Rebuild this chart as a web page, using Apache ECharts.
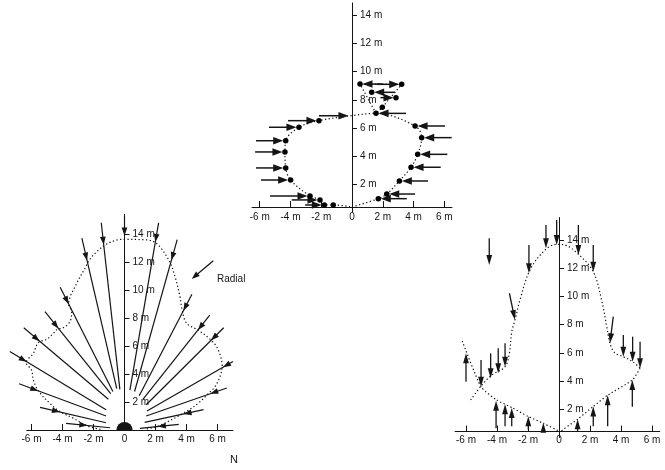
<!DOCTYPE html>
<html><head><meta charset="utf-8">
<script src="https://cdn.jsdelivr.net/npm/echarts@6/dist/echarts.min.js"></script>
<style>html,body{margin:0;padding:0;background:#fff}#c{width:665px;height:470px}</style>
</head><body><div id="c"></div>
<script>
// ---------- tick values ----------
const xTicks = [-6, -4, -2, 0, 2, 4, 6];
const yTicks = [2, 4, 6, 8, 10, 12, 14];

// ---------- Panel A (top) ----------
const aDots = [[-2.15,6.51],[-3.45,6.04],[-4.31,5.08],[-4.36,4.28],[-4.31,3.14],[-3.99,2.28],[-2.73,1.14],[-2.08,0.86],[-1.8,0.5],[-1.22,0.5],
  [0.52,9.12],[3.23,9.1],[1.28,8.53],[2.86,8.15],[1.97,7.46],[1.56,7.03],[4.1,6.13],[4.53,5.3],[4.27,4.11],[3.84,3.19],[3.08,2.21],[2.26,1.28],[1.71,0.95]];
const aArrows = [
  [-2.15,6.86,-0.07,6.86],[-4.16,6.51,-2.15,6.51],[-5.4,6.04,-3.45,6.04],[-6.24,5.08,-4.31,5.08],[-6.3,4.28,-4.36,4.28],
  [-6.24,3.14,-4.31,3.14],[-5.92,2.28,-3.99,2.28],[-5.33,1.14,-2.73,1.14],[-3.92,0.86,-2.08,0.86],[-3.05,0.5,-1.8,0.5],
  [2.0,9.12,0.52,9.12],[1.6,9.1,3.23,9.1],[2.8,8.53,1.28,8.53],[1.85,8.15,2.86,8.15],[3.51,7.03,1.56,7.03],
  [6.05,6.13,4.1,6.13],[6.48,5.3,4.53,5.3],[6.2,4.11,4.27,4.11],[5.77,3.19,3.84,3.19],[4.94,2.21,3.08,2.21],[4.1,1.28,2.26,1.28],[3.56,0.95,1.71,0.95]];
const aOutline = [[0,0.36],[1.71,0.95],[2.26,1.28],[3.08,2.21],[3.84,3.19],[4.27,4.11],[4.53,5.3],[4.1,6.13],[1.56,7.03],[-0.07,6.86],
  [-2.15,6.51],[-3.45,6.04],[-4.31,5.08],[-4.36,4.28],[-4.31,3.14],[-3.99,2.28],[-2.73,1.14],[-2.08,0.86],[-1.8,0.5],[-1.22,0.5],[0,0.36]];
const aTriangle = [[1.56,7.03],[0.52,9.12],[3.23,9.1],[1.97,7.46],[1.56,7.03]];

// ---------- Panel B (bottom left, radial) : [outerX,outerY, headX,headY, innerX,innerY] ----------
const bRadials = [
  [0,15.3,0,13.9,0,13.9],
  [-1.5,14.8,-1.2,13.25,-0.3,2.9],[-2.75,13.7,-2.27,12.14,-0.5,2.95],[-4.15,10.2,-3.6,9.0,-0.75,2.75],
  [-5.13,8.45,-4.33,7.2,-0.89,2.6],[-6.5,7.3,-5.56,6.24,-1.04,2.2],[-7.4,5.6,-6.35,4.8,-1.19,1.45],
  [-6.8,3.3,-5.56,2.8,-1.19,1.0],[-5.45,1.62,-4.16,1.31,-1.19,0.52],[-3.77,0.48,-2.4,0.29,-0.94,0.16],
  [2.2,14.8,1.9,13.45,0.35,2.85],[3.4,13.6,2.83,12.2,0.65,2.75],[4.35,9.7,3.72,8.57,0.95,2.45],
  [5.5,8.2,4.8,7.1,1.2,2.2],[6.4,7.3,5.65,6.35,1.4,1.8],[7.0,4.9,6.3,4.6,1.45,1.35],
  [6.6,3.0,5.5,2.7,1.4,1.0],[5.1,1.45,3.8,1.2,1.3,0.55],[3.5,0.4,2.15,0.27,1.0,0.12]];
const bLegendArrow = [[5.73,12.09,4.34,10.79]];
const bOutline = [[-1.55,0.05],[-2.4,0.29],[-3.3,0.84],[-4.16,1.31],[-4.81,1.9],[-5.56,2.8],[-5.88,3.57],[-6.0,4.29],[-6.35,4.8],
  [-5.88,5.48],[-5.56,6.24],[-5.02,6.48],[-4.59,6.9],[-4.33,7.2],[-3.95,7.3],[-3.52,7.74],[-3.41,8.45],[-3.6,9.0],
  [-3.08,10.48],[-2.55,11.55],[-2.27,12.14],[-1.79,12.74],[-1.2,13.25],[-0.5,13.57],[0.03,13.62],[1.0,13.6],[1.9,13.45],
  [2.83,12.2],[3.26,10.95],[3.58,9.52],[3.72,8.57],[4.01,7.62],[4.8,7.1],[5.65,6.35],[6.05,5.71],[6.3,4.6],[6.16,3.8],
  [5.84,3.1],[5.5,2.7],[4.74,1.9],[3.8,1.2],[2.15,0.27],[1.3,0.05]];
const bHub = [[0,0,0.52]];

// ---------- Panel C (bottom right) : [startX,startY, tipX,tipY] ----------
const cDown = [[-4.5,14.13,-4.5,12.23],[-1.94,13.65,-1.94,11.65],[-0.84,15.07,-0.84,13.42],[-0.15,15.43,-0.15,13.65],
  [1.25,15.07,1.25,12.94],[2.21,13.65,2.21,11.76],[-3.2,10.23,-2.84,8.33],[3.5,8.57,3.29,6.68],
  [-3.48,6.68,-3.48,5.02],[-3.92,6.33,-3.92,4.55],[-4.41,5.97,-4.41,4.2],[-5.03,5.5,-5.03,3.6],
  [4.15,7.27,4.15,5.73],[4.75,7.15,4.75,5.38],[5.23,6.79,5.23,4.91]];
const cUp = [[-6.0,3.96,-6.0,5.97],[-4.06,0.65,-4.06,2.6],[-3.48,0.8,-3.48,2.35],[-3.05,0.8,-3.05,2.1],[-1.98,0.55,-1.98,1.5],
  [-1.01,0.45,-1.01,1.05],[1.2,0.45,1.2,1.3],[2.21,0.8,2.21,2.2],[3.14,0.8,3.14,3.0],[4.73,2.18,4.73,4.08]];
const cBell = [[-5.7,2.66],[-4.99,3.7],[-4.34,4.43],[-3.48,5.02],[-3.2,6.0],[-3.05,7.5],[-2.84,8.33],[-2.52,9.75],[-1.87,11.88],
  [-0.9,13.3],[-0.15,13.7],[0.39,13.65],[1.25,13.0],[2.21,11.76],[2.75,9.75],[3.08,7.86],[3.29,6.68],[3.6,6.0],[4.15,5.73],[4.75,5.38],[5.23,4.91]];
const cRightLine = [[5.23,4.91],[4.73,4.08],[3.14,3.0],[2.21,2.2],[1.2,1.3],[0.06,0.41]];
const cLeftLine = [[-6.24,6.84],[-5.03,3.6],[-4.02,2.66],[-3.0,2.1],[-2.0,1.5],[-1.0,1.0],[0.0,0.45]];

// ---------- layout ----------
const INK = '#151515';
const FONT = 'Liberation Sans, Arial, Helvetica, sans-serif';
const L = {
  A: {zeroX:352, sx:15.38, xmin:-6.5, xmax:6.5, zeroY:212, sy:14.03, ymax:14.9, xOff:-5, lm:5},
  B: {zeroX:124.5, sx:15.5, xmin:-6.3, xmax:7.0, zeroY:430, sy:14.0, ymax:15.4, xOff:0, lm:4},
  C: {zeroX:559, sx:15.5, xmin:-6.7, xmax:6.5, zeroY:437.5, sy:14.1, ymax:15.6, xOff:-6, lm:4}
};
const keys = ['A','B','C'];
const grids = keys.map(k => { const p=L[k]; return {left:p.zeroX+p.xmin*p.sx, top:p.zeroY-p.ymax*p.sy, width:(p.xmax-p.xmin)*p.sx, height:p.ymax*p.sy, containLabel:false}; });
const xAxes = keys.map((k,i) => { const p=L[k]; return {type:'value', gridIndex:i, min:p.xmin, max:p.xmax, offset:p.xOff,
  axisLine:{onZero:false, lineStyle:{color:INK,width:1}}, splitLine:{show:false},
  axisTick:{inside:true, length:6, customValues:xTicks, lineStyle:{color:INK}},
  axisLabel:{customValues:xTicks, margin:p.lm, color:INK, fontFamily:FONT, fontSize:10, formatter:v=> v===0?'0':(v+' m')}}; });
const yAxes = keys.map((k,i) => { const p=L[k]; return {type:'value', gridIndex:i, min:0, max:p.ymax, offset:p.xmin*p.sx,
  axisLine:{show:true, onZero:false, lineStyle:{color:INK,width:1}}, splitLine:{show:false},
  axisTick:{show:true, inside:true, length:5, customValues:yTicks, lineStyle:{color:INK}},
  axisLabel:{inside:true, customValues:yTicks, margin:8, color:INK, fontFamily:FONT, fontSize:10, formatter:v=> v+' m'}}; });

function arrowRender(o){
  return function(params, api){
    const a = api.coord([api.value(0), api.value(1)]);
    const b = api.coord([api.value(2), api.value(3)]);
    let dx=b[0]-a[0], dy=b[1]-a[1]; const n=Math.hypot(dx,dy)||1; dx/=n; dy/=n;
    const tip=[b[0]-dx*o.back, b[1]-dy*o.back];
    const base=[tip[0]-dx*o.len, tip[1]-dy*o.len];
    const nx=-dy, ny=dx;
    return {type:'group', children:[
      {type:'line', shape:{x1:a[0],y1:a[1],x2:base[0]+dx*2,y2:base[1]+dy*2}, style:{stroke:INK,lineWidth:o.lw}},
      {type:'polygon', shape:{points:[tip,[base[0]+nx*o.w,base[1]+ny*o.w],[base[0]-nx*o.w,base[1]-ny*o.w]]}, style:{fill:INK}}
    ]};
  };
}
function radialRender(o){
  return function(params, api){
    const a = api.coord([api.value(0), api.value(1)]);
    const h = api.coord([api.value(2), api.value(3)]);
    const e = api.coord([api.value(4), api.value(5)]);
    let dx=e[0]-a[0], dy=e[1]-a[1]; const n=Math.hypot(dx,dy)||1; dx/=n; dy/=n;
    const s = (h[0]-a[0])*dx + (h[1]-a[1])*dy;
    const tip=[a[0]+dx*s, a[1]+dy*s];
    const base=[tip[0]-dx*o.len, tip[1]-dy*o.len];
    const nx=-dy, ny=dx;
    return {type:'group', children:[
      {type:'line', shape:{x1:a[0],y1:a[1],x2:e[0],y2:e[1]}, style:{stroke:INK,lineWidth:o.lw}},
      {type:'polygon', shape:{points:[tip,[base[0]+nx*o.w,base[1]+ny*o.w],[base[0]-nx*o.w,base[1]-ny*o.w]]}, style:{fill:INK}}
    ]};
  };
}
const dotted = {type:[1.3,2.4], width:1.2, color:INK};
function lineS(gi, data, smooth){ return {type:'line', xAxisIndex:gi, yAxisIndex:gi, data, symbol:'none', smooth:smooth, lineStyle:dotted, silent:true, clip:false, z:1}; }
function arrowS(gi, data, o){ return {type:'custom', xAxisIndex:gi, yAxisIndex:gi, data, renderItem:arrowRender(o), encode:{x:[0,2], y:[1,3]}, silent:true, clip:false, z:3}; }

const series = [
  lineS(0, aOutline, 0.35), lineS(0, aTriangle, false),
  {type:'scatter', xAxisIndex:0, yAxisIndex:0, data:aDots, symbol:'circle', symbolSize:5.5, itemStyle:{color:'#000', opacity:1}, silent:true, z:4},
  arrowS(0, aArrows, {len:10, w:3.8, back:2.5, lw:1.5}),
  lineS(1, bOutline, 0.35),
  {type:'custom', xAxisIndex:1, yAxisIndex:1, data:bRadials, renderItem:radialRender({len:8, w:2.9, lw:1.2}), encode:{x:[0,2,4], y:[1,3,5]}, silent:true, clip:false, z:3},
  arrowS(1, bLegendArrow, {len:8, w:2.9, back:0, lw:1.2}),
  {type:'custom', xAxisIndex:1, yAxisIndex:1, data:bHub, encode:{x:0,y:1}, silent:true, z:5,
    renderItem:(params, api)=>{ const c=api.coord([api.value(0),api.value(1)]); const r=api.size([api.value(2),0])[0];
      return {type:'sector', shape:{cx:c[0], cy:c[1], r:r, r0:0, startAngle:Math.PI, endAngle:2*Math.PI}, style:{fill:INK}}; }},
  lineS(2, cBell, 0.35), lineS(2, cRightLine, 0.2), lineS(2, cLeftLine, 0.2),
  arrowS(2, cDown, {len:10, w:2.9, back:0, lw:1.3}),
  arrowS(2, cUp, {len:10, w:2.9, back:0, lw:1.3})
];

const chart = echarts.init(document.getElementById('c'), null, {renderer:'canvas'});
chart.setOption({
  animation:false, backgroundColor:'#fff',
  grid:grids, xAxis:xAxes, yAxis:yAxes, series:series,
  graphic:[
    {type:'text', left:217, top:274, style:{text:'Radial', fill:INK, font:'10px '+FONT}},
    {type:'text', left:230, top:454, style:{text:'N', fill:INK, font:'11px '+FONT}}
  ]
});
</script></body></html>
